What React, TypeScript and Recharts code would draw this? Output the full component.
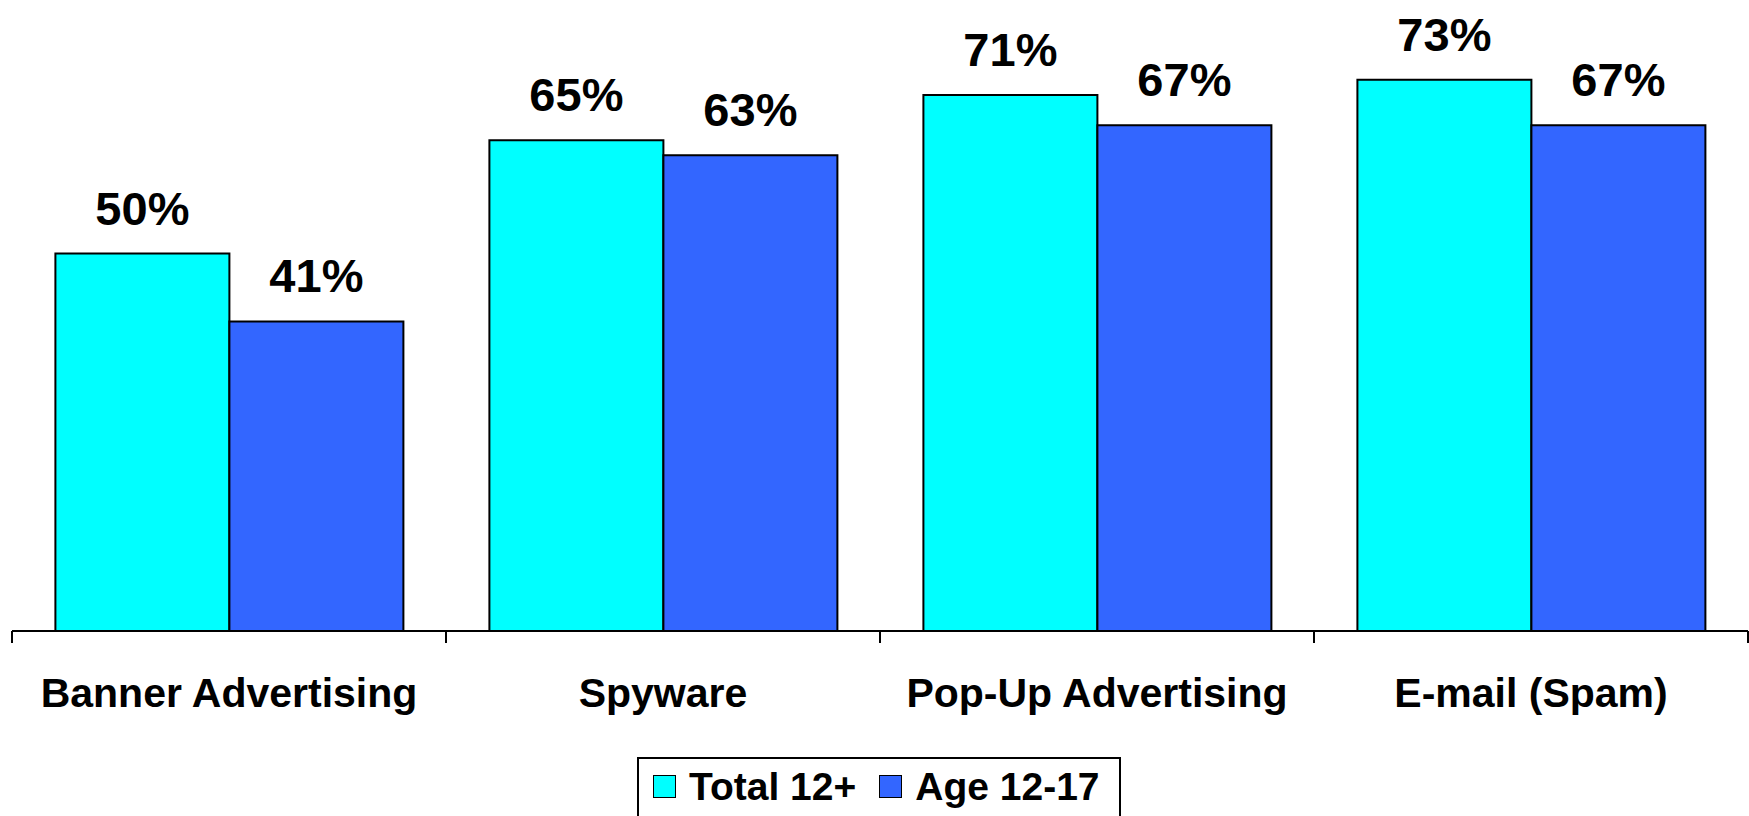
import React from 'react';
import { Bar, BarChart, LabelList, Legend, XAxis, YAxis } from 'recharts';

const categories = ['Banner Advertising', 'Spyware', 'Pop-Up Advertising', 'E-mail (Spam)'];
const total12Plus = [50, 65, 71, 73];
const age12to17 = [41, 63, 67, 67];
const seriesNames = ['Total 12+', 'Age 12-17'];
const seriesColors = ['#00ffff', '#3366ff'];

const chartData = categories.map((name, i) => ({
  name,
  total: total12Plus[i],
  teen: age12to17[i],
}));

const font = '"Liberation Sans", Arial, sans-serif';

// ticks sit on the category boundaries, labels in the middle
const BoundaryTick = (props: any) => {
  const { x, y, payload, index, visibleTicksCount } = props;
  const half = payload.offset || 0;
  const axisY = y - 48;
  return (
    <g>
      <line x1={x - half} y1={axisY} x2={x - half} y2={axisY + 12} stroke="#000" strokeWidth={2} />
      {index === visibleTicksCount - 1 && (
        <line x1={x + half} y1={axisY} x2={x + half} y2={axisY + 12} stroke="#000" strokeWidth={2} />
      )}
      <text x={x} y={y + 28} textAnchor="middle" fontFamily={font} fontWeight={700} fontSize={41} fill="#000">
        {payload.value}
      </text>
    </g>
  );
};

const LegendBox = () => (
  <div
    style={{
      boxSizing: 'border-box',
      height: 59,
      width: 484,
      borderTop: '2px solid #000',
      borderLeft: '2px solid #000',
      borderRight: '2px solid #000',
      display: 'flex',
      alignItems: 'center',
      paddingLeft: 14,
      paddingBottom: 2,
      fontFamily: font,
      fontWeight: 700,
      fontSize: 39,
      color: '#000',
    }}
  >
    {seriesNames.map((name, i) => (
      <div key={name} style={{ display: 'flex', alignItems: 'center', marginRight: i === 0 ? 23 : 0 }}>
        <span
          style={{
            display: 'inline-block',
            width: 23,
            height: 23,
            background: seriesColors[i],
            border: '1.5px solid #000',
            boxSizing: 'border-box',
            marginRight: 13,
          }}
        />
        <span style={{ lineHeight: 1 }}>{name}</span>
      </div>
    ))}
  </div>
);

export default function App() {
  return (
    <div style={{ position: 'absolute', left: 0, top: 0, width: 1749, height: 816, background: '#fff' }}>
      <BarChart
        width={1749}
        height={816}
        data={chartData}
        margin={{ top: 27, right: 1, bottom: 0, left: 12 }}
        barCategoryGap="10%"
        barGap={0}
      >
        <XAxis
          dataKey="name"
          axisLine={{ stroke: '#000', strokeWidth: 2 }}
          tickLine={false}
          tickSize={12}
          tickMargin={36}
          height={126}
          interval={0}
          tick={<BoundaryTick />}
        />
        <YAxis hide domain={[0, 80]} />
        <Legend
          verticalAlign="bottom"
          content={<LegendBox />}
          wrapperStyle={{ left: 637, width: 484, height: 59 }}
        />
        <Bar dataKey="total" name={seriesNames[0]} fill={seriesColors[0]} stroke="#000" strokeWidth={2} isAnimationActive={false}>
          <LabelList
            dataKey="total"
            position="top"
            offset={29}
            formatter={(v: any) => `${v}%`}
            style={{ fontFamily: font, fontWeight: 700, fontSize: 47, fill: '#000' }}
          />
        </Bar>
        <Bar dataKey="teen" name={seriesNames[1]} fill={seriesColors[1]} stroke="#000" strokeWidth={2} isAnimationActive={false}>
          <LabelList
            dataKey="teen"
            position="top"
            offset={29}
            formatter={(v: any) => `${v}%`}
            style={{ fontFamily: font, fontWeight: 700, fontSize: 47, fill: '#000' }}
          />
        </Bar>
      </BarChart>
    </div>
  );
}
